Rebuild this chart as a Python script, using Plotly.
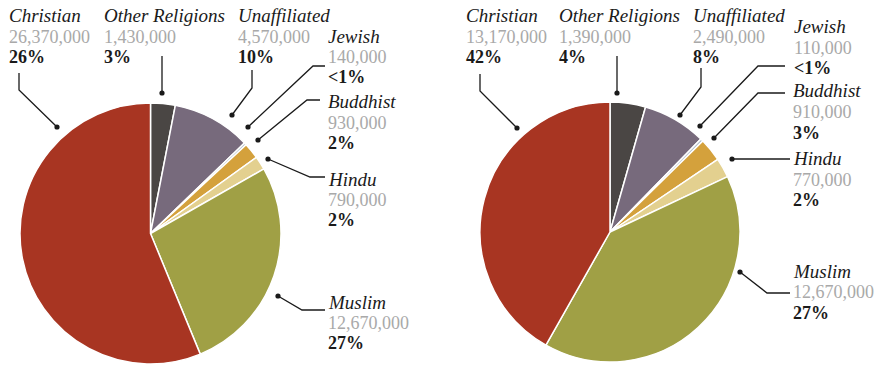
import plotly.graph_objects as go

W, H = 875, 366

religions = ["Other Religions", "Unaffiliated", "Jewish", "Buddhist", "Hindu", "Muslim", "Christian"]
colors = ["#4a4644", "#776a7c", "#b3c1cc", "#d4a13c", "#e3d08f", "#a0a045", "#a83522"]

left_values = [1430000, 4570000, 140000, 930000, 790000, 12670000, 26370000]
left_pct = ["3%", "10%", "<1%", "2%", "2%", "27%", "26%"]

right_values = [1390000, 2490000, 110000, 910000, 770000, 12670000, 13170000]
right_pct = ["4%", "8%", "<1%", "3%", "2%", "27%", "42%"]

# pie placement (center x, center y, radius) in pixels
pies = [(150.5, 233.5, 130.5), (610, 232, 130)]

# label anchor (x, name-line y, number-line y, percent-line y) per religion
left_labels = {
    "Christian": (8, 15, 37, 57),
    "Other Religions": (103, 15, 37, 57),
    "Unaffiliated": (237, 15, 37, 57),
    "Jewish": (327, 36, 57, 77),
    "Buddhist": (327, 102, 123, 143),
    "Hindu": (327, 179, 200, 220),
    "Muslim": (327, 302, 323, 343),
}
right_labels = {
    "Christian": (465, 15, 37, 57),
    "Other Religions": (558, 15, 37, 57),
    "Unaffiliated": (692, 15, 37, 57),
    "Jewish": (793, 27, 48, 68),
    "Buddhist": (792, 91, 112, 133),
    "Hindu": (792, 159, 180, 200),
    "Muslim": (792, 271, 292, 313),
}

# leader line polylines, last point carries the dot
left_leaders = {
    "Christian": [(19, 73), (19, 90), (57, 127)],
    "Other Religions": [(162, 56), (162, 93)],
    "Unaffiliated": [(252, 70), (252, 88), (232, 115)],
    "Jewish": [(325, 66), (313, 66), (248, 127)],
    "Buddhist": [(320, 100), (307, 100), (258, 140)],
    "Hindu": [(325, 177), (310, 177), (268, 159)],
    "Muslim": [(325, 310), (302, 310), (278, 296)],
}
right_leaders = {
    "Christian": [(480, 74), (480, 91), (517, 128)],
    "Other Religions": [(617, 56), (617, 93)],
    "Unaffiliated": [(701, 68), (701, 87), (680, 115)],
    "Jewish": [(785, 66), (758, 66), (700, 126)],
    "Buddhist": [(785, 93), (758, 93), (714, 138)],
    "Hindu": [(790, 159), (732, 159)],
    "Muslim": [(790, 293), (767, 293), (740, 272)],
}

SERIF = "'Liberation Serif', 'DejaVu Serif', serif"


def px(x):
    return x / W


def py(y):
    return 1 - y / H


fig = go.Figure()
for (cx, cy, r), vals in zip(pies, [left_values, right_values]):
    fig.add_trace(go.Pie(
        labels=religions,
        values=vals,
        sort=False,
        direction="clockwise",
        rotation=0,
        textinfo="none",
        hoverinfo="label+value",
        showlegend=False,
        marker=dict(colors=colors, line=dict(color="white", width=1.5)),
        domain=dict(x=[px(cx - r), px(cx + r)], y=[py(cy + r), py(cy - r)]),
    ))

annotations = []
shapes = []
for labels, leaders, vals, pcts in [
    (left_labels, left_leaders, left_values, left_pct),
    (right_labels, right_leaders, right_values, right_pct),
]:
    for i, name in enumerate(religions):
        x, yn, yv, yp = labels[name]
        for txt, y, font in [
            ("<i>%s</i>" % name, yn, dict(family=SERIF, size=19, color="#1a1a1a")),
            (f"{vals[i]:,}", yv, dict(family=SERIF, size=18, color="#a9a9a9")),
            ("<b>%s</b>" % pcts[i], yp, dict(family=SERIF, size=18, color="#1a1a1a")),
        ]:
            annotations.append(dict(
                x=px(x), y=py(y), xref="paper", yref="paper",
                text=txt, showarrow=False, xanchor="left", yanchor="middle",
                font=font, borderpad=0,
            ))
        pts = leaders[name]
        path = "M " + " L ".join(f"{px(a)},{py(b)}" for a, b in pts)
        shapes.append(dict(type="path", path=path, xref="paper", yref="paper",
                           line=dict(color="#1a1a1a", width=1.3)))
        dx, dy = pts[-1]
        rr = 2.6
        shapes.append(dict(type="circle", xref="paper", yref="paper",
                           x0=px(dx - rr), x1=px(dx + rr), y0=py(dy + rr), y1=py(dy - rr),
                           fillcolor="#1a1a1a", line=dict(width=0)))

fig.update_layout(
    width=W, height=H,
    margin=dict(l=0, r=0, t=0, b=0),
    paper_bgcolor="white",
    plot_bgcolor="white",
    annotations=annotations,
    shapes=shapes,
)
fig.write_html("out.html")
